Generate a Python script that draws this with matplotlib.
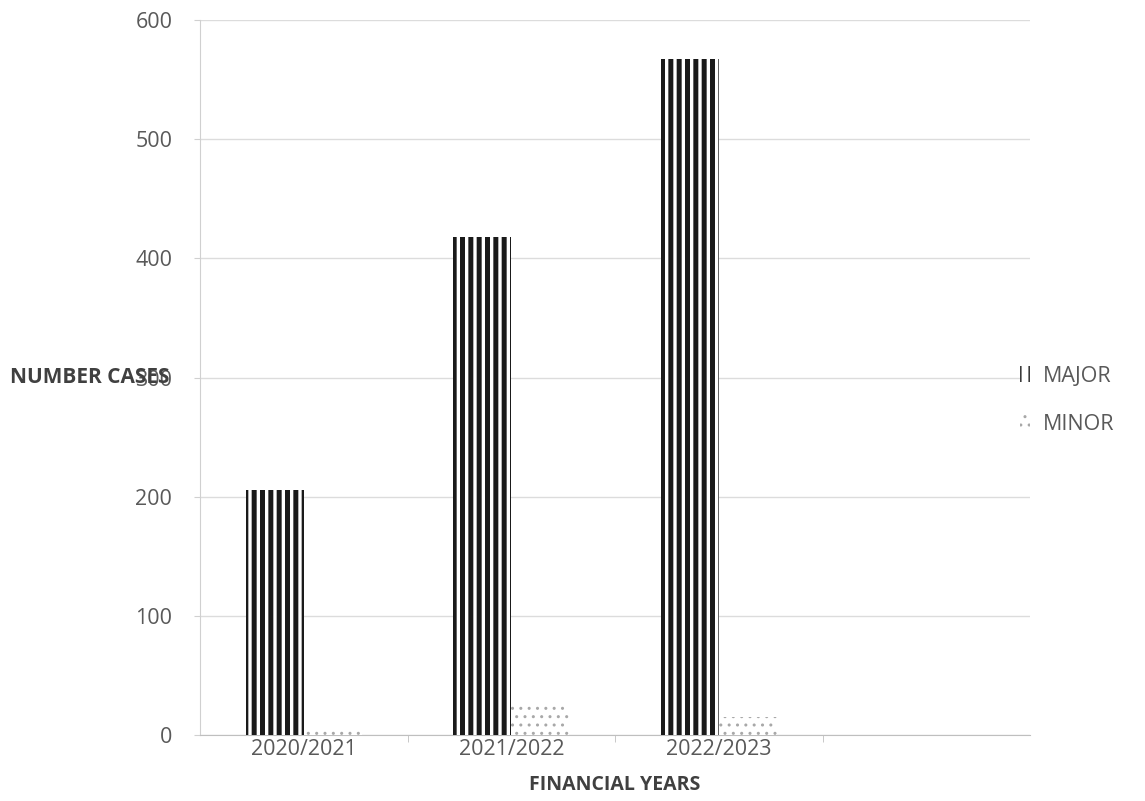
import matplotlib.pyplot as plt
import numpy as np

# case counts per financial year
years = ['2020/2021', '2021/2022', '2022/2023', '']
major = [206, 418, 567, 0]
minor = [5, 27, 15, 0]

plt.rcParams['font.family'] = ['Open Sans', 'DejaVu Sans']

fig = plt.figure(figsize=(11.45, 8.01), dpi=100)
ax = fig.add_axes([0.1747, 0.0824, 0.8996 - 0.1747, 0.975 - 0.0824])

x = np.arange(len(years))
w = 0.28

plt.rcParams['hatch.linewidth'] = 3.6
bars_major = ax.bar(x - w / 2, major, w, facecolor='white', edgecolor='#1a1a1a',
                    hatch='||', linewidth=0, label='MAJOR', zorder=3)
plt.rcParams['hatch.linewidth'] = 1.0
bars_minor = ax.bar(x + w / 2, minor, w, facecolor='white', edgecolor='#a8a8a8',
                    hatch='..', linewidth=0, label='MINOR', zorder=3)

ax.set_xlim(-0.5, len(years) - 0.5)
ax.set_ylim(0, 600)
ax.set_yticks(range(0, 601, 100))
ax.yaxis.grid(True, color='#dcdcdc', linewidth=1)
ax.set_axisbelow(True)

for s in ['top', 'right']:
    ax.spines[s].set_visible(False)
ax.spines['left'].set_color('#d0d0d0')
ax.spines['bottom'].set_color('#bfbfbf')

ax.set_xticks(x)
ax.set_xticklabels(years)
ax.set_xticks(np.arange(0.5, len(years) - 0.5, 1), minor=True)
ax.tick_params(axis='x', which='major', length=0, pad=3, labelsize=15.5, labelcolor='#595959')
ax.tick_params(axis='x', which='minor', length=5, color='#bfbfbf')
ax.tick_params(axis='y', length=4, color='#d0d0d0', pad=16, labelsize=15.5, labelcolor='#595959')

# y label sits horizontally at the 300 level, left of the tick labels
ax.set_ylabel('NUMBER CASES', rotation=0, fontsize=15, fontweight='bold', color='#404040',
              ha='left', va='center')
ax.yaxis.set_label_coords(-0.229, 0.5)
ax.set_xlabel('FINANCIAL YEARS', fontsize=14, fontweight='bold', color='#404040',
              va='center')
ax.xaxis.set_label_coords(0.5, -0.07)

leg = fig.legend(handles=[bars_major, bars_minor], loc='center left',
                 bbox_to_anchor=(0.874, 0.5), frameon=False, fontsize=15.5,
                 handlelength=0.45, handleheight=0.8, handletextpad=0.6,
                 labelspacing=1.3, labelcolor='#595959')

fig.savefig('out.png', dpi=100)
